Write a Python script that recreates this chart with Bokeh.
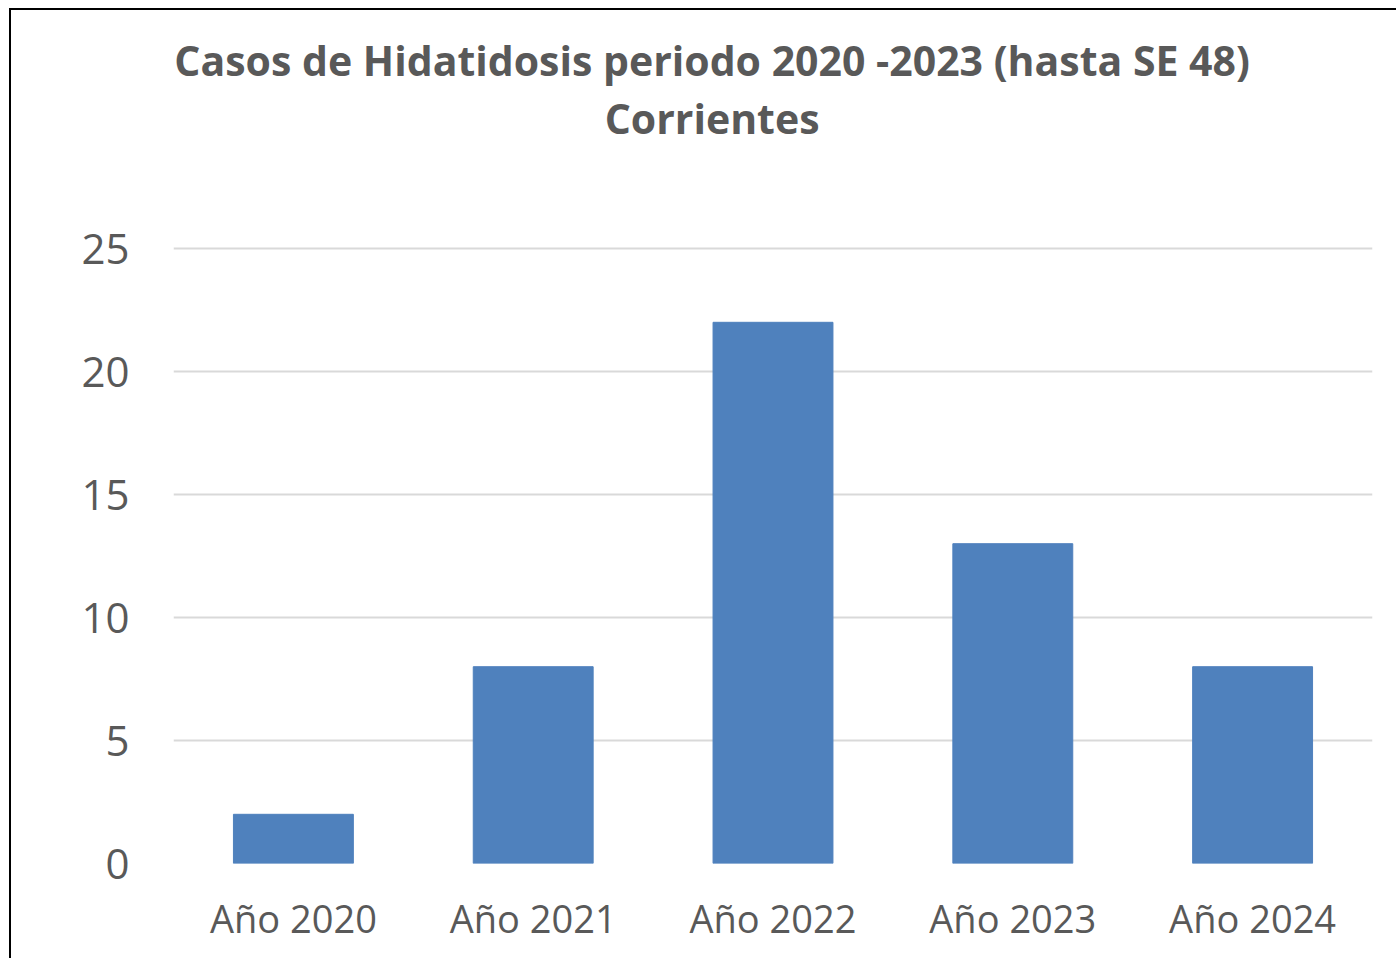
from bokeh.plotting import figure
from bokeh.models import Label, FixedTicker, Range1d, FactorRange
from bokeh.embed import file_html
from bokeh.resources import INLINE

categories = ["Año 2020", "Año 2021", "Año 2022", "Año 2023", "Año 2024"]
casos = [2, 8, 22, 13, 8]
y_ticks = [0, 5, 10, 15, 20, 25]
title_line1 = "Casos de Hidatidosis periodo 2020 -2023 (hasta SE 48)"
title_line2 = "Corrientes"

TEXT = "#595959"
FONT = "Open Sans"

# frame spans the whole height above the x labels; title drawn inside it
p = figure(
    x_range=FactorRange(*categories, range_padding=0),
    y_range=Range1d(0, 34.675),
    width=1387, height=950,
    output_backend="svg", toolbar_location=None,
    min_border_left=162, min_border_right=26,
    min_border_top=0, min_border_bottom=97,
)
p.styles = {"margin-left": "9px", "margin-top": "8px",
            "border-left": "2px solid #000000", "border-top": "2px solid #000000"}
p.outline_line_color = None
p.background_fill_color = "white"
p.border_fill_color = "white"

p.vbar(x=categories, top=casos, width=0.5, color="#4f81bd", line_color="#4f81bd")

p.xgrid.grid_line_color = None
p.ygrid.grid_line_color = "#d9d9d9"
p.ygrid.grid_line_width = 2
p.yaxis.ticker = FixedTicker(ticks=y_ticks)

for ax in (p.xaxis[0], p.yaxis[0]):
    ax.axis_line_color = None
    ax.major_tick_line_color = None
    ax.minor_tick_line_color = None
    ax.major_label_text_font = FONT
    ax.major_label_text_color = TEXT
p.xaxis.major_label_text_font_size = "38px"
p.yaxis.major_label_text_font_size = "42px"
p.xaxis.major_label_standoff = 22
p.yaxis.major_label_standoff = 38

p.add_layout(Label(x=2.246, y=32.68, text=title_line1,
                   text_align="center", text_baseline="middle", text_font=FONT,
                   text_font_style="bold", text_font_size="41px", text_color=TEXT))
p.add_layout(Label(x=2.246, y=30.32, text=title_line2,
                   text_align="center", text_baseline="middle", text_font=FONT,
                   text_font_style="bold", text_font_size="41px", text_color=TEXT))

open("out.html", "w").write(file_html(p, INLINE))
